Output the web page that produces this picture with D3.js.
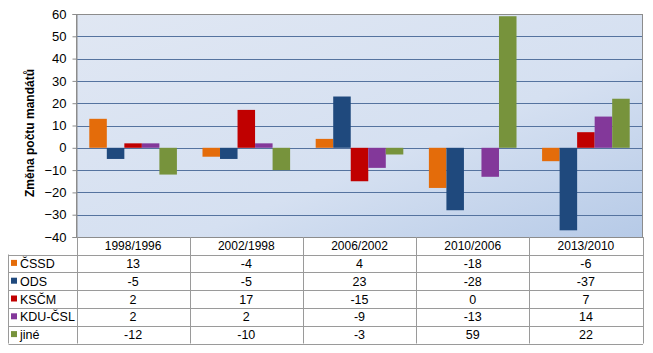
<!DOCTYPE html>
<html>
<head>
<meta charset="utf-8">
<script src="https://cdn.jsdelivr.net/npm/d3@7"></script>
<style>
  body { margin: 0; background: #fff; }
  svg { display: block; font-family: "Liberation Sans", Arial, sans-serif; }
</style>
</head>
<body>
<svg id="chart" width="653" height="353"></svg>
<script>
const periods = ["1998/1996", "2002/1998", "2006/2002", "2010/2006", "2013/2010"];
const parties = ["ČSSD", "ODS", "KSČM", "KDU-ČSL", "jiné"];
const cssd = [13, -4, 4, -18, -6];
const ods = [-5, -5, 23, -28, -37];
const kscm = [2, 17, -15, 0, 7];
const kdu = [2, 2, -9, -13, 14];
const jine = [-12, -10, -3, 59, 22];
const yTicks = [60, 50, 40, 30, 20, 10, 0, -10, -20, -30, -40];
const colors = ["#E46C0A", "#1F497D", "#C00000", "#83389A", "#77933C"];
const yTitle = "Změna počtu mandátů";

const seriesValues = [cssd, ods, kscm, kdu, jine];

(function () {
const svg = d3.select("#chart");
const pLeft = 76.5, pRight = 642.5, pTop = 14, pBottom = 237;

const defs = svg.append("defs");
const grad = defs.append("linearGradient").attr("id", "bg")
  .attr("x1", "0%").attr("y1", "0%").attr("x2", "100%").attr("y2", "100%");
grad.append("stop").attr("offset", "0%").attr("stop-color", "#e0e7f3");
grad.append("stop").attr("offset", "60%").attr("stop-color", "#d5e0f1");
grad.append("stop").attr("offset", "100%").attr("stop-color", "#b6cae7");

const x0 = d3.scaleBand().domain(periods).range([pLeft, pRight]).paddingInner(0.226).paddingOuter(0.113);
const x1 = d3.scaleBand().domain(parties).range([0, x0.bandwidth()]);
const y = d3.scaleLinear().domain([-40, 60]).range([pBottom, pTop]);

svg.append("rect").attr("x", pLeft).attr("y", pTop).attr("width", pRight - pLeft).attr("height", pBottom - pTop)
  .attr("fill", "url(#bg)");

// gridlines
svg.append("g").selectAll("line").data(yTicks.filter(t => t !== -40 && t !== 60)).join("line")
  .attr("x1", pLeft).attr("x2", pRight)
  .attr("y1", d => Math.round(y(d)) + 0.5).attr("y2", d => Math.round(y(d)) + 0.5)
  .attr("stroke", "#55739F").attr("stroke-width", 1);

// plot border
svg.append("rect").attr("x", pLeft).attr("y", pTop + 0.5).attr("width", pRight - pLeft).attr("height", pBottom - pTop)
  .attr("fill", "none").attr("stroke", "#8C8C8C").attr("stroke-width", 1);

// bars
const gGroups = svg.append("g").selectAll("g").data(periods).join("g")
  .attr("transform", d => `translate(${x0(d)},0)`);
gGroups.selectAll("rect").data((p, i) => parties.map((s, j) => ({ s, j, v: seriesValues[j][i] }))).join("rect")
  .attr("x", d => x1(d.s))
  .attr("width", x1.bandwidth())
  .attr("y", d => Math.min(y(d.v), y(0)))
  .attr("height", d => Math.abs(y(d.v) - y(0)))
  .attr("fill", d => colors[d.j]);

// y axis
const yAxis = d3.axisLeft(y).tickValues(yTicks).tickSize(4).tickPadding(6).tickFormat(d3.format("d"));
const ga = svg.append("g").attr("transform", `translate(${pLeft},0)`).call(yAxis);
ga.select(".domain").attr("stroke", "#8C8C8C");
ga.selectAll(".tick line").attr("stroke", "#8C8C8C");
ga.selectAll(".tick text").attr("font-size", 13).attr("fill", "#000")
  .attr("font-family", "'Liberation Sans', Arial, sans-serif");

svg.append("text").attr("transform", `translate(34,133) rotate(-90)`)
  .attr("text-anchor", "middle").attr("font-size", 12).attr("font-weight", "bold")
  .text(yTitle);

// data table
const tableLeft = 8.5, headTop = pBottom, rowH = 17.8;
const rowTop = 254.5;
const tbl = svg.append("g");
const lineColor = "#9A9A9A";
const edges = [pLeft];
periods.forEach((p, i) => edges.push(pLeft + (pRight - pLeft) * (i + 1) / periods.length));
edges.forEach(ex => {
  tbl.append("line").attr("x1", Math.round(ex) + 0.5).attr("x2", Math.round(ex) + 0.5)
    .attr("y1", headTop).attr("y2", rowTop + rowH * parties.length)
    .attr("stroke", lineColor);
});
tbl.append("line").attr("x1", tableLeft).attr("x2", tableLeft)
  .attr("y1", rowTop).attr("y2", rowTop + rowH * parties.length).attr("stroke", lineColor);
for (let i = 0; i <= parties.length; i++) {
  const yy = Math.round(rowTop + rowH * i) + 0.5;
  tbl.append("line").attr("x1", tableLeft).attr("x2", pRight + 0.5)
    .attr("y1", yy).attr("y2", yy).attr("stroke", lineColor);
}
tbl.selectAll("text.head").data(periods).join("text").attr("class", "head")
  .attr("x", d => x0(d) + x0.bandwidth() / 2).attr("y", headTop + 13)
  .attr("text-anchor", "middle").attr("font-size", 12).text(d => d);
parties.forEach((s, j) => {
  const cy = rowTop + rowH * j + rowH / 2;
  tbl.append("rect").attr("x", 11).attr("y", cy - 3.5).attr("width", 6).attr("height", 6).attr("fill", colors[j]);
  tbl.append("text").attr("x", 20).attr("y", cy + 4.5).attr("font-size", 12.5).text(s);
  periods.forEach((p, i) => {
    tbl.append("text").attr("x", x0(p) + x0.bandwidth() / 2).attr("y", cy + 4.5)
      .attr("text-anchor", "middle").attr("font-size", 12.5).text(seriesValues[j][i]);
  });
});
})();
</script>
</body>
</html>
